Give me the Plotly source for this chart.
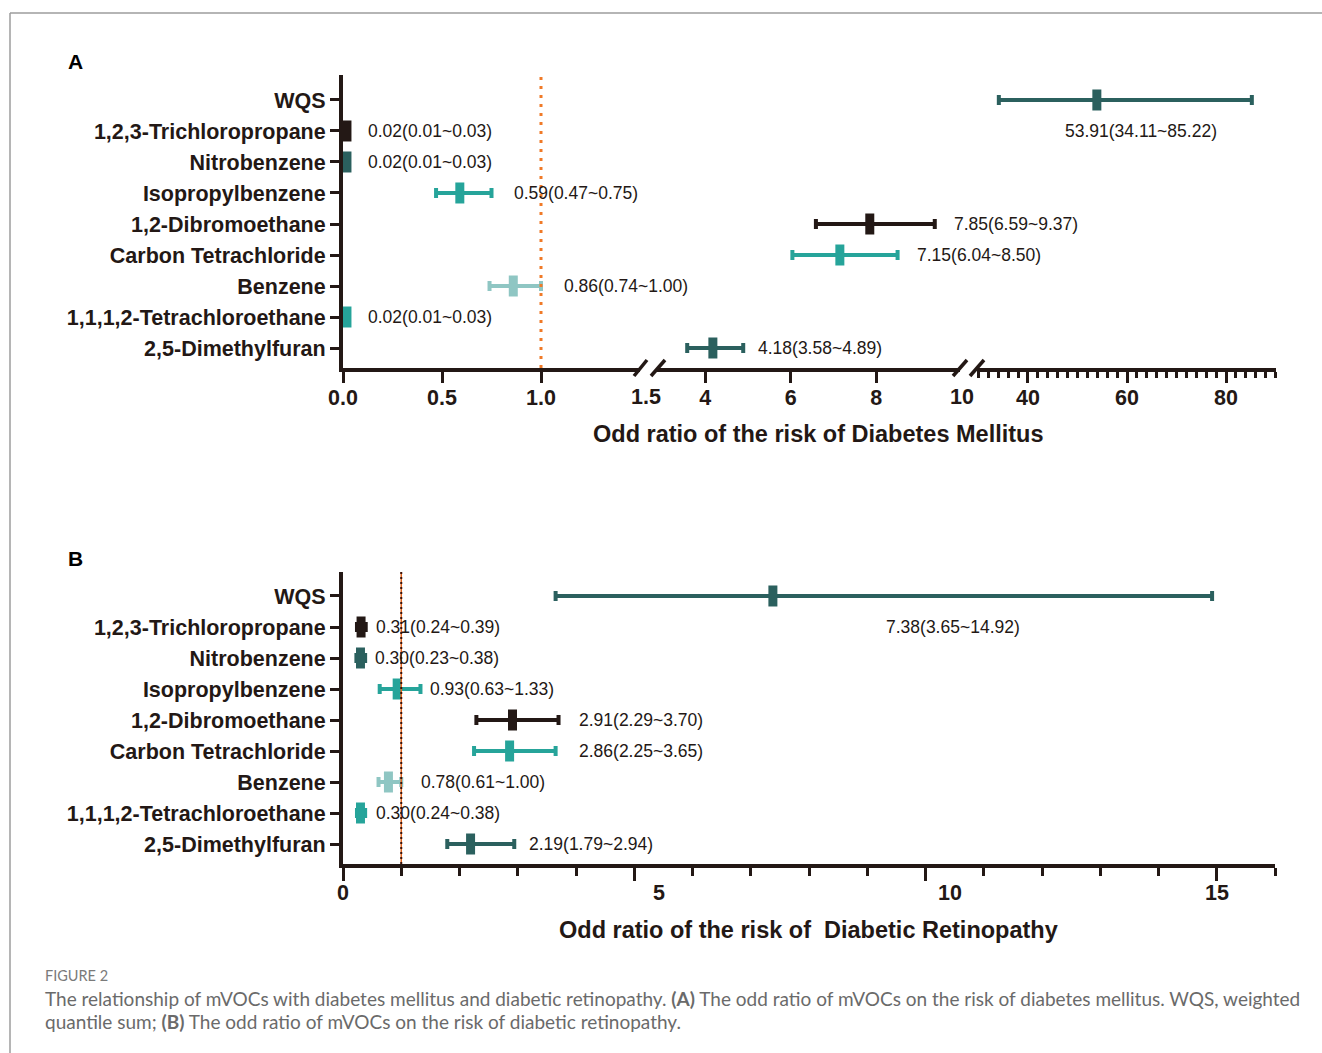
import plotly.graph_objects as go

# ---------------- data ----------------
categories = ["WQS", "1,2,3-Trichloropropane", "Nitrobenzene", "Isopropylbenzene",
              "1,2-Dibromoethane", "Carbon Tetrachloride", "Benzene",
              "1,1,1,2-Tetrachloroethane", "2,5-Dimethylfuran"]
dm_or = [53.91, 0.02, 0.02, 0.59, 7.85, 7.15, 0.86, 0.02, 4.18]
dm_lo = [34.11, 0.01, 0.01, 0.47, 6.59, 6.04, 0.74, 0.01, 3.58]
dm_hi = [85.22, 0.03, 0.03, 0.75, 9.37, 8.50, 1.00, 0.03, 4.89]
dr_or = [7.38, 0.31, 0.30, 0.93, 2.91, 2.86, 0.78, 0.30, 2.19]
dr_lo = [3.65, 0.24, 0.23, 0.63, 2.29, 2.25, 0.61, 0.24, 1.79]
dr_hi = [14.92, 0.39, 0.38, 1.33, 3.70, 3.65, 1.00, 0.38, 2.94]
a_ticks1 = [0, 0.5, 1.0]
a_ticks1_text = ["0.0", "0.5", "1.0"]
a_ticks2 = [4, 6, 8]
a_ticks3 = [40, 60, 80]
b_ticks = [0, 5, 10, 15]

# ---------------- style ----------------
DARK = "#231815"
TEAL_D = "#2b605e"
TEAL = "#26a49a"
TEAL_L = "#8fc6c3"
colors = [TEAL_D, DARK, TEAL_D, TEAL, DARK, TEAL, TEAL_L, TEAL, TEAL_D]
a_shift = [-34, 17, 17, 20, 17, 17, 21, 17, 13]
b_shift = [111, 8, 8, 8, 18, 21, 18, 9, 13]
b_tick_shift = [0, 25, 24, 0]
FONT = "Arial, 'Liberation Sans', sans-serif"
W, H = 1322, 1053
TICK_SIZE = 21.5
VAL_SIZE = 17.5
TITLE_SIZE = 23.5


def fx(p):
    return p / W


def fy(p):
    return 1 - p / H


fig = go.Figure()
rows = list(range(len(categories)))


def seg_axis(v):
    if v < 1.5:
        return "x"
    if v <= 10:
        return "x2"
    return "x3"


annotations = []
valfont = dict(family=FONT, size=VAL_SIZE, color=DARK)

# Panel A traces
for i in rows:
    xa = seg_axis(dm_or[i])
    fig.add_trace(go.Scatter(
        x=[dm_or[i]], y=[i], xaxis=xa, yaxis="y", mode="markers",
        cliponaxis=False,
        marker=dict(symbol="line-ns", size=15, color=colors[i],
                    line=dict(width=9, color=colors[i])),
        error_x=dict(type="data", symmetric=False,
                     array=[dm_hi[i] - dm_or[i]], arrayminus=[dm_or[i] - dm_lo[i]],
                     color=colors[i], thickness=4, width=5),
        hoverinfo="skip"))
    txt = f"{dm_or[i]:.2f}({dm_lo[i]:.2f}~{dm_hi[i]:.2f})"
    if i == 0:
        annotations.append(dict(x=dm_or[i], y=i + 1, xref=xa, yref="y", text=txt,
                                showarrow=False, xanchor="left", yanchor="middle",
                                xshift=a_shift[i], font=valfont))
    else:
        annotations.append(dict(x=dm_hi[i], y=i, xref=xa, yref="y", text=txt,
                                showarrow=False, xanchor="left", yanchor="middle",
                                xshift=a_shift[i], font=valfont))

# Panel B traces
for i in rows:
    fig.add_trace(go.Scatter(
        x=[dr_or[i]], y=[i], xaxis="x4", yaxis="y2", mode="markers",
        cliponaxis=False,
        marker=dict(symbol="line-ns", size=15, color=colors[i],
                    line=dict(width=9, color=colors[i])),
        error_x=dict(type="data", symmetric=False,
                     array=[dr_hi[i] - dr_or[i]], arrayminus=[dr_or[i] - dr_lo[i]],
                     color=colors[i], thickness=4, width=5),
        hoverinfo="skip"))
    txt = f"{dr_or[i]:.2f}({dr_lo[i]:.2f}~{dr_hi[i]:.2f})"
    if i == 0:
        annotations.append(dict(x=dr_or[i], y=i + 1, xref="x4", yref="y2", text=txt,
                                showarrow=False, xanchor="left", yanchor="middle",
                                xshift=b_shift[i], font=valfont))
    else:
        annotations.append(dict(x=dr_hi[i], y=i, xref="x4", yref="y2", text=txt,
                                showarrow=False, xanchor="left", yanchor="middle",
                                xshift=b_shift[i], font=valfont))

tickfont = dict(family=FONT, size=TICK_SIZE, color=DARK)
common_x = dict(showgrid=False, zeroline=False, showline=True, linewidth=4,
                linecolor=DARK, ticks="outside", ticklen=11, tickwidth=3,
                tickcolor=DARK, tickfont=tickfont, fixedrange=True, automargin=False)
common_y = dict(showgrid=False, zeroline=False, showline=True, linewidth=4,
                linecolor=DARK, ticks="outside", ticklen=9, tickwidth=3,
                tickcolor=DARK, tickfont=tickfont, tickvals=rows,
                ticktext=[f"<b>{c}</b>" for c in categories], fixedrange=True,
                automargin=False)

fig.update_layout(
    width=W, height=H, margin=dict(l=0, r=0, t=0, b=0, pad=0, autoexpand=False),
    paper_bgcolor="white", plot_bgcolor="rgba(0,0,0,0)", showlegend=False,
    font=dict(family=FONT, color=DARK),
    xaxis=dict(domain=[fx(343), fx(640)], range=[0, 1.5], anchor="y",
               tickvals=a_ticks1, ticktext=[f"<b>{t}</b>" for t in a_ticks1_text], **common_x),
    xaxis2=dict(domain=[fx(656), fx(960)], range=[2.85, 9.96], anchor="y",
                tickvals=a_ticks2, ticktext=[f"<b>{t}</b>" for t in a_ticks2], **common_x),
    xaxis3=dict(domain=[fx(977), fx(1276)], range=[29.7, 90.1], anchor="y",
                tickvals=a_ticks3, ticktext=[f"<b>{t}</b>" for t in a_ticks3],
                minor=dict(tick0=0, dtick=2, ticks="outside", ticklen=6, tickwidth=2.5,
                           tickcolor=DARK, showgrid=False),
                **common_x),
    yaxis=dict(domain=[fy(368), fy(75)], range=[8.645, -0.806], anchor="x", **common_y),
    xaxis4=dict(domain=[fx(343), fx(1275)], range=[0, 16], anchor="y2",
                tickvals=b_ticks, showticklabels=False,
                minor=dict(tick0=0, dtick=1, ticks="outside", ticklen=8, tickwidth=3,
                           tickcolor=DARK, showgrid=False),
                **{**common_x, "ticklen": 13}),
    yaxis2=dict(domain=[fy(864), fy(572)], range=[8.645, -0.774], anchor="x4", **common_y),
)

# A tick labels sit a little closer to the axis in the original
for ax in ("xaxis", "xaxis2", "xaxis3"):
    fig.layout[ax].ticklabelstandoff = -4

# B tick labels (slightly offset in the original)
for t, s in zip(b_ticks, b_tick_shift):
    annotations.append(dict(x=t, y=fy(893), xref="x4", yref="paper", text=f"<b>{t}</b>",
                            showarrow=False, xanchor="center", yanchor="middle",
                            xshift=s, font=tickfont))

shapes = []
# reference lines
shapes.append(dict(type="line", xref="x", yref="y domain", x0=1, x1=1, y0=0, y1=1,
                   line=dict(color="#f07a28", width=3, dash="3px,6px")))
shapes.append(dict(type="line", xref="x4", yref="y2 domain", x0=1, x1=1, y0=0, y1=1,
                   line=dict(color="#e0651e", width=1.5)))
shapes.append(dict(type="line", xref="x4", yref="y2 domain", x0=1, x1=1, y0=0, y1=1,
                   line=dict(color="#3a1208", width=2, dash="2px,3px")))
# axis break marks
for (x0, x1) in [(634, 647), (651, 665), (953, 967), (970, 984)]:
    shapes.append(dict(type="line", xref="paper", yref="paper",
                       x0=fx(x0), x1=fx(x1), y0=fy(376), y1=fy(360),
                       line=dict(color=DARK, width=3.5)))
# frame lines
shapes.append(dict(type="line", xref="paper", yref="paper", x0=fx(10), x1=1,
                   y0=fy(13), y1=fy(13), line=dict(color="#9c9c9c", width=1.5)))
shapes.append(dict(type="line", xref="paper", yref="paper", x0=fx(10), x1=fx(10),
                   y0=fy(13), y1=0, line=dict(color="#9c9c9c", width=1.5)))


def ann(x, y, text, size, color=DARK, family=FONT, xanchor="center"):
    annotations.append(dict(x=fx(x), y=fy(y), xref="paper", yref="paper", text=text,
                            showarrow=False, xanchor=xanchor, yanchor="middle",
                            font=dict(family=family, size=size, color=color)))


# extra tick labels at breaks
ann(646, 397, "<b>1.5</b>", TICK_SIZE)
ann(962, 397, "<b>10</b>", TICK_SIZE)
# axis titles
ann(818, 434, "<b>Odd ratio of the risk of Diabetes Mellitus</b>", TITLE_SIZE)
ann(808, 930, "<b>Odd ratio of the risk of  Diabetic Retinopathy</b>", TITLE_SIZE)
# panel letters
ann(75, 62, "<b>A</b>", 21, color="black")
ann(75, 558, "<b>B</b>", 21, color="black")
# caption
CAP = "Lato, 'Open Sans', sans-serif"
ann(43, 975, "FIGURE 2", 14.5, color="#7a7a7a", family=CAP, xanchor="left")
ann(43, 998, "The relationship of mVOCs with diabetes mellitus and diabetic retinopathy. "
             "<b>(A)</b> The odd ratio of mVOCs on the risk of diabetes mellitus. WQS, weighted",
    19, color="#6a6a6a", family=CAP, xanchor="left")
ann(43, 1021, "quantile sum; <b>(B)</b> The odd ratio of mVOCs on the risk of diabetic retinopathy.",
    19, color="#6a6a6a", family=CAP, xanchor="left")

fig.update_layout(shapes=shapes, annotations=annotations)
fig.write_html("out.html", post_script="document.body.style.margin='0';")
